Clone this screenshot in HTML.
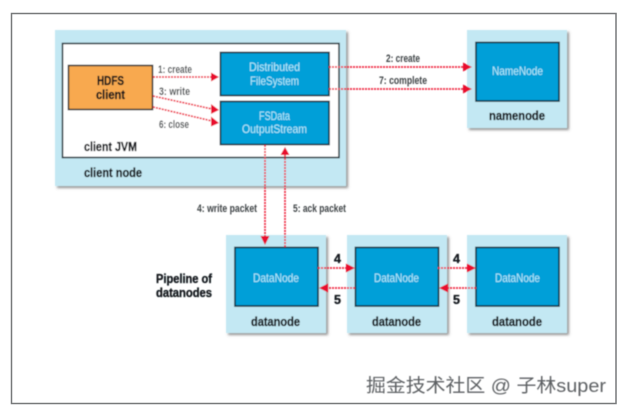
<!DOCTYPE html>
<html><head><meta charset="utf-8">
<style>
html,body{margin:0;padding:0;background:#fff}
svg{display:block}
text{font-family:"Liberation Sans","Noto Sans CJK SC",sans-serif}
.n{fill:#c3e8f3;filter:url(#sh)}
.b{fill:#009fd8;stroke:#12303f;stroke-width:1.6}
.w{fill:#b5ecfb;font-size:12px}
.l{fill:#3f4447;font-size:11px;font-weight:bold}
.k{fill:#14191d;font-size:12.5px;font-weight:bold;stroke:#14191d;stroke-width:.35}
.r{stroke:#ee2740;stroke-width:1.7;stroke-dasharray:2 1;fill:none}
.h{fill:#e8112d}
</style></head>
<body>
<svg width="619" height="410" viewBox="0 0 619 410" xmlns="http://www.w3.org/2000/svg">
<defs>
<filter id="sh" x="-10%" y="-10%" width="125%" height="125%"><feDropShadow dx="2" dy="2" stdDeviation="1.2" flood-color="#777" flood-opacity=".8"/></filter>
<filter id="bl"><feGaussianBlur stdDeviation=".4"/></filter>
</defs>
<rect width="619" height="410" fill="#fff"/>
<rect x="11.5" y="13.5" width="604.5" height="390" fill="#fff" stroke="#77797a" stroke-width="1.5"/>
<g filter="url(#bl)">
<rect class="n" x="55" y="30" width="291" height="156"/>
<rect x="62.5" y="43.5" width="276.5" height="114" fill="#fff" stroke="#1c2a33" stroke-width="1.5"/>
<rect x="68.5" y="65.5" width="84" height="44" fill="#f8a94f" stroke="#2a2a2a" stroke-width="1.5"/>
<rect class="b" x="220.5" y="52.5" width="108.5" height="43"/>
<rect class="b" x="220.5" y="101.5" width="108.5" height="43"/>
<text class="k" x="97" y="85" textLength="27" lengthAdjust="spacingAndGlyphs">HDFS</text>
<text class="k" x="96" y="99" textLength="29" lengthAdjust="spacingAndGlyphs">client</text>
<text class="w" x="249" y="71" textLength="51" lengthAdjust="spacingAndGlyphs">Distributed</text>
<text class="w" x="250" y="85" textLength="49" lengthAdjust="spacingAndGlyphs">FileSystem</text>
<text class="w" x="259" y="120" textLength="31" lengthAdjust="spacingAndGlyphs">FSData</text>
<text class="w" x="242" y="133" textLength="65" lengthAdjust="spacingAndGlyphs">OutputStream</text>
<text class="k" x="84" y="151" textLength="53" lengthAdjust="spacingAndGlyphs">client JVM</text>
<text class="k" x="84" y="177" textLength="58" lengthAdjust="spacingAndGlyphs">client node</text>

<rect class="n" x="467" y="30" width="100" height="98"/>
<rect class="b" x="476" y="42.5" width="83" height="58.5"/>
<text class="w" x="492" y="75" textLength="51" lengthAdjust="spacingAndGlyphs">NameNode</text>
<text class="k" x="489" y="120" textLength="56" lengthAdjust="spacingAndGlyphs">namenode</text>

<rect class="n" x="226" y="235" width="100" height="98"/>
<rect class="b" x="235" y="247.5" width="83" height="58.5"/>
<text class="w" x="253" y="282" textLength="46" lengthAdjust="spacingAndGlyphs">DataNode</text>
<text class="k" x="251" y="326" textLength="49" lengthAdjust="spacingAndGlyphs">datanode</text>

<rect class="n" x="347" y="235" width="100" height="98"/>
<rect class="b" x="355.5" y="247.5" width="83" height="58.5"/>
<text class="w" x="374" y="282" textLength="45" lengthAdjust="spacingAndGlyphs">DataNode</text>
<text class="k" x="372" y="326" textLength="49" lengthAdjust="spacingAndGlyphs">datanode</text>

<rect class="n" x="467" y="235" width="100" height="98"/>
<rect class="b" x="476" y="247.5" width="83" height="58.5"/>
<text class="w" x="495" y="282" textLength="45" lengthAdjust="spacingAndGlyphs">DataNode</text>
<text class="k" x="492" y="326" textLength="50" lengthAdjust="spacingAndGlyphs">datanode</text>

<path class="r" d="M153 77H212M153 96L212 109M153 107L212 121M329 67H465M329 89H465"/>
<path class="h" d="M219 77L211 72.5V81.5ZM219 110L211 104V114ZM219 123L211 116.5V126.5ZM472 67L463 62.5V71.5ZM472 89L463 84.5V93.5Z"/>

<path class="r" d="M265 145V238M285 155V247"/>
<path class="h" d="M265 245L260.5 236H269.5ZM285 147L280.5 155H289.5Z"/>

<path class="r" d="M318 268H348M326 288H355M438 268H468M447 288H476"/>
<path class="h" d="M355 268L346 263.5V272.5ZM319 288L328 283.5V292.5ZM476 268L467 263.5V272.5ZM439 288L448 283.5V292.5Z"/>

<text class="k" x="334" y="263">4</text><text class="k" x="334" y="304">5</text>
<text class="k" x="453" y="263">4</text><text class="k" x="453" y="304">5</text>

<text class="l" x="158" y="73" textLength="34" lengthAdjust="spacingAndGlyphs">1: create</text>
<text class="l" x="159" y="95" textLength="31" lengthAdjust="spacingAndGlyphs">3: write</text>
<text class="l" x="159" y="128" textLength="30" lengthAdjust="spacingAndGlyphs">6: close</text>
<text class="l" x="386" y="62" textLength="34" lengthAdjust="spacingAndGlyphs">2: create</text>
<text class="l" x="379" y="84" textLength="48" lengthAdjust="spacingAndGlyphs">7: complete</text>
<text class="l" x="197" y="212" textLength="60" lengthAdjust="spacingAndGlyphs">4: write packet</text>
<text class="l" x="293" y="212" textLength="53" lengthAdjust="spacingAndGlyphs">5: ack packet</text>
<text class="k" x="156" y="283" textLength="56" lengthAdjust="spacingAndGlyphs">Pipeline of</text>
<text class="k" x="156" y="297" textLength="56" lengthAdjust="spacingAndGlyphs">datanodes</text>
<text x="366" y="392" fill="#5d6063" style="font-size:18.5px" textLength="240" lengthAdjust="spacingAndGlyphs">掘金技术社区 @ 子林super</text>
</g>
</svg>
</body></html>
